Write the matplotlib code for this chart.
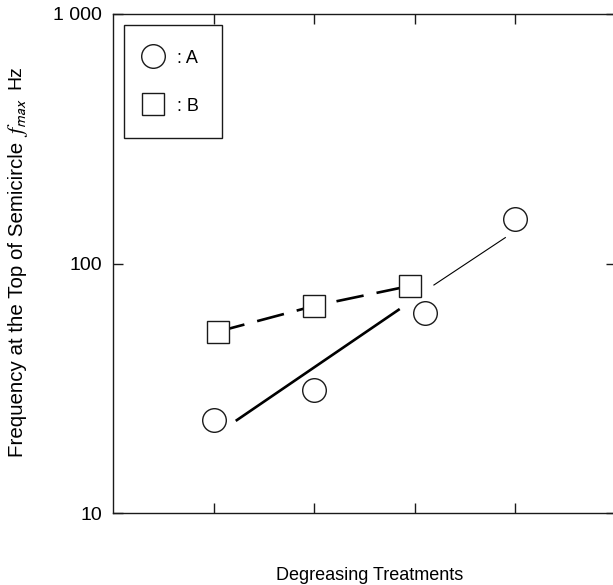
import matplotlib
matplotlib.use('Agg')
import matplotlib.pyplot as plt
from matplotlib.lines import Line2D
import matplotlib.ticker as mticker

plt.rcParams['font.family'] = ['Liberation Sans', 'DejaVu Sans']
plt.rcParams['mathtext.fontset'] = 'stix'

# sample A (circles)
a_x = [1.0, 2.0, 3.1, 4.0]
a_y = [23.6, 31.1, 63.1, 150.7]

# sample B (squares, dashed)
b_x = [1.04, 2.0, 2.95]
b_y = [53.3, 67.6, 81.3]

# trend line for A: thick part and thin extension
fit_x = [1.22, 2.85]
fit_y = [23.4, 65.7]
ext_x = [3.19, 3.90]
ext_y = [82.0, 127.0]

y_ticks = [10, 100, 1000]
y_tick_labels = ["10", "100", "1 000"]
x_ticks = [1, 2, 3, 4]

INK = '#1a1a1a'

fig = plt.figure(figsize=(6.13, 5.85), dpi=100)
W, H = 613, 585
ax = fig.add_axes([113 / W, 72 / H, 503 / W, 499 / H])

ax.plot(fit_x, fit_y, color='black', linewidth=1.9, solid_capstyle='butt', zorder=2)
ax.plot(ext_x, ext_y, color='black', linewidth=0.8, zorder=2)
ax.plot(b_x, b_y, color='black', linewidth=1.9, dashes=(10.5, 5.0),
        marker='s', markersize=15.5, markerfacecolor='white',
        markeredgecolor=INK, markeredgewidth=1.0, zorder=3)
ax.plot(a_x, a_y, linestyle='none', marker='o', markersize=17,
        markerfacecolor='white', markeredgecolor=INK, markeredgewidth=1.0, zorder=4)

ax.set_yscale('log')
ax.set_ylim(10, 1000)
ax.set_xlim(0, 5)
ax.yaxis.set_major_locator(mticker.FixedLocator(y_ticks))
ax.yaxis.set_minor_locator(mticker.NullLocator())
ax.set_yticklabels(y_tick_labels)
ax.set_xticks(x_ticks)
ax.set_xticklabels([])
ax.tick_params(direction='in', length=7, width=1.0, color=INK,
               top=True, right=True, labelsize=14, pad=8, labelcolor='black')
for s in ax.spines.values():
    s.set_linewidth(1.0)
    s.set_color(INK)

fig.text(370 / W, 1 - 575 / H, "Degreasing Treatments",
         ha='center', va='center', fontsize=13)

# y axis label in three pieces
fig.text(18 / W, 1 - 299 / H, "Frequency at the Top of Semicircle",
         rotation=90, ha='center', va='center', fontsize=14.8)
fig.text(18 / W, 1 - 118 / H, r"$f_{\mathsf{max}}$",
         rotation=90, ha='center', va='center', fontsize=16)
fig.text(16 / W, 1 - 77 / H, "Hz",
         rotation=90, ha='center', va='center', fontsize=14)

handles = [
    Line2D([], [], linestyle='none', marker='o', markersize=17,
           markerfacecolor='white', markeredgecolor=INK, markeredgewidth=1.0),
    Line2D([], [], linestyle='none', marker='s', markersize=15.5,
           markerfacecolor='white', markeredgecolor=INK, markeredgewidth=1.0),
]
leg = ax.legend(handles, [": A", ": B"], loc='upper left', bbox_to_anchor=(0, 1),
                fontsize=13, borderaxespad=0.61, borderpad=1.3,
                handlelength=0.62, handletextpad=1.0, labelspacing=1.65,
                handleheight=1.0, fancybox=False, framealpha=1,
                edgecolor=INK)
leg.get_frame().set_linewidth(1.0)

fig.savefig('out.png', dpi=100)
